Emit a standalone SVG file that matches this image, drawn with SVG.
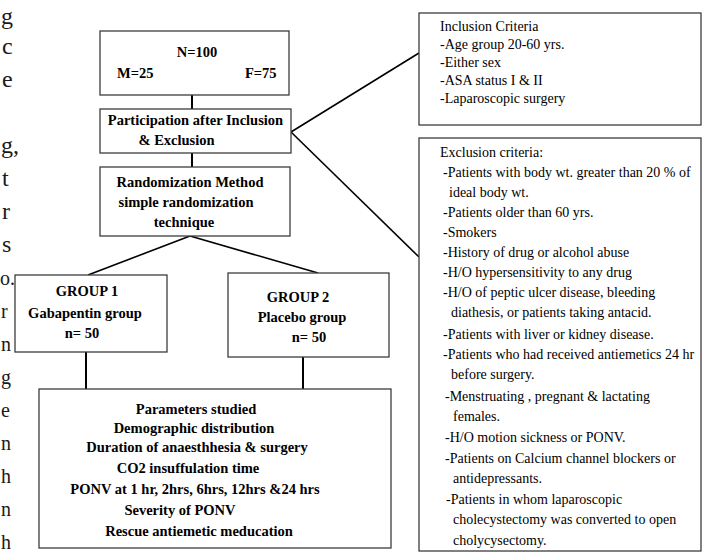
<svg xmlns="http://www.w3.org/2000/svg" width="703" height="554" viewBox="0 0 703 554">
<style>
.box{fill:#fff;stroke:#3c3c3c;stroke-width:1.3}
.conn{stroke:#000;stroke-width:1.6;fill:none}
.v{stroke-width:2}
.b{font-family:"Liberation Serif","Times New Roman",serif;font-weight:bold;font-size:14.5px;fill:#000}
.c{text-anchor:middle}
.r{font-family:"Liberation Serif","Times New Roman",serif;font-size:14px;fill:#000}
.m{font-family:"Liberation Serif","Times New Roman",serif;font-size:24px;fill:#1a1a1a}
.s{font-size:20px}
</style>
<rect width="703" height="554" fill="#fff"/>
<g id="connectors">
<line class="conn v" x1="192" y1="95" x2="192" y2="109"/>
<line class="conn v" x1="192" y1="153" x2="192" y2="167"/>
<line class="conn" x1="190" y1="236" x2="88" y2="275"/>
<line class="conn" x1="190" y1="236" x2="318" y2="273"/>
<line class="conn v" x1="86" y1="352" x2="86" y2="389"/>
<line class="conn v" x1="303" y1="357" x2="303" y2="389"/>
<line class="conn" x1="291" y1="132" x2="419" y2="53"/>
<line class="conn" x1="291" y1="132" x2="419" y2="257"/>
</g>
<g id="total">
<rect class="box" x="100" y="31" width="189" height="64"/>
<text class="b c" x="197" y="57">N=100</text>
<text class="b" x="117" y="78">M=25</text>
<text class="b" x="245" y="78">F=75</text>
</g>
<g id="participation">
<rect class="box" x="100" y="109" width="191" height="44"/>
<text class="b c" x="195.5" y="125">Participation after Inclusion</text>
<text class="b c" x="176.5" y="145">&amp; Exclusion</text>
</g>
<g id="randomization">
<rect class="box" x="100" y="167" width="190" height="69"/>
<text class="b c" x="190" y="187">Randomization Method</text>
<text class="b c" x="186" y="207">simple randomization</text>
<text class="b c" x="184" y="227">technique</text>
</g>
<g id="group1">
<rect class="box" x="15" y="275" width="152" height="77"/>
<text class="b c" x="87" y="296">GROUP 1</text>
<text class="b c" x="85" y="318">Gabapentin group</text>
<text class="b c" x="82" y="338">n= 50</text>
</g>
<g id="group2">
<rect class="box" x="228" y="273" width="161" height="84"/>
<text class="b c" x="298" y="302">GROUP 2</text>
<text class="b c" x="302" y="322">Placebo group</text>
<text class="b c" x="309" y="342">n= 50</text>
</g>
<g id="parameters">
<rect class="box" x="39" y="389" width="352" height="159"/>
<text class="b c" x="196" y="414">Parameters studied</text>
<text class="b c" x="194" y="433">Demographic distribution</text>
<text class="b c" x="197" y="452">Duration of anaesthhesia &amp; surgery</text>
<text class="b c" x="188" y="473">CO2 insuffulation time</text>
<text class="b c" x="195" y="494">PONV at 1 hr, 2hrs, 6hrs, 12hrs &amp;24 hrs</text>
<text class="b c" x="180" y="515">Severity of PONV</text>
<text class="b c" x="199" y="536">Rescue antiemetic meducation</text>
</g>
<g id="inclusion">
<rect class="box" x="419" y="13" width="282" height="112"/>
<text class="r" x="440" y="31">Inclusion Criteria</text>
<text class="r" x="440" y="49">-Age group 20-60 yrs.</text>
<text class="r" x="440" y="67">-Either sex</text>
<text class="r" x="440" y="85">-ASA status I &amp; II</text>
<text class="r" x="440" y="103">-Laparoscopic surgery</text>
</g>
<g id="exclusion">
<rect class="box" x="419" y="138" width="282" height="413"/>
<text class="r" x="440" y="157">Exclusion criteria:</text>
<text class="r" x="443" y="177">-Patients with body wt. greater than 20 % of</text>
<text class="r" x="449" y="197">ideal body wt.</text>
<text class="r" x="443" y="217">-Patients older than 60 yrs.</text>
<text class="r" x="443" y="237">-Smokers</text>
<text class="r" x="443" y="257">-History of drug or alcohol abuse</text>
<text class="r" x="443" y="277">-H/O hypersensitivity to any drug</text>
<text class="r" x="443" y="297">-H/O of peptic ulcer disease, bleeding</text>
<text class="r" x="451" y="317">diathesis, or patients taking antacid.</text>
<text class="r" x="443" y="339">-Patients with liver or kidney disease.</text>
<text class="r" x="443" y="359">-Patients who had received antiemetics 24 hr</text>
<text class="r" x="451" y="379">before surgery.</text>
<text class="r" x="445" y="401">-Menstruating , pregnant &amp; lactating</text>
<text class="r" x="453" y="421">females.</text>
<text class="r" x="445" y="442">-H/O motion sickness or PONV.</text>
<text class="r" x="445" y="463">-Patients on Calcium channel blockers or</text>
<text class="r" x="453" y="483">antidepressants.</text>
<text class="r" x="446" y="504">-Patients in whom laparoscopic</text>
<text class="r" x="453" y="524">cholecystectomy was converted to open</text>
<text class="r" x="453" y="545">cholycysectomy.</text>
</g>
<g id="margin-text">
<text class="m" x="1" y="24">g</text>
<text class="m" x="2" y="54">c</text>
<text class="m" x="2" y="87">e</text>
<text class="m" x="1" y="153">g,</text>
<text class="m" x="2" y="186">t</text>
<text class="m" x="2" y="219">r</text>
<text class="m" x="2" y="252">s</text>
<text class="m s" x="0" y="285" font-size="18">o.</text>
<text class="m s" x="1" y="318">r</text>
<text class="m s" x="1" y="351">n</text>
<text class="m s" x="1" y="384">g</text>
<text class="m s" x="1" y="417">e</text>
<text class="m s" x="1" y="450">n</text>
<text class="m s" x="1" y="483">h</text>
<text class="m s" x="1" y="516">n</text>
<text class="m s" x="1" y="549">h</text>
</g>
</svg>
